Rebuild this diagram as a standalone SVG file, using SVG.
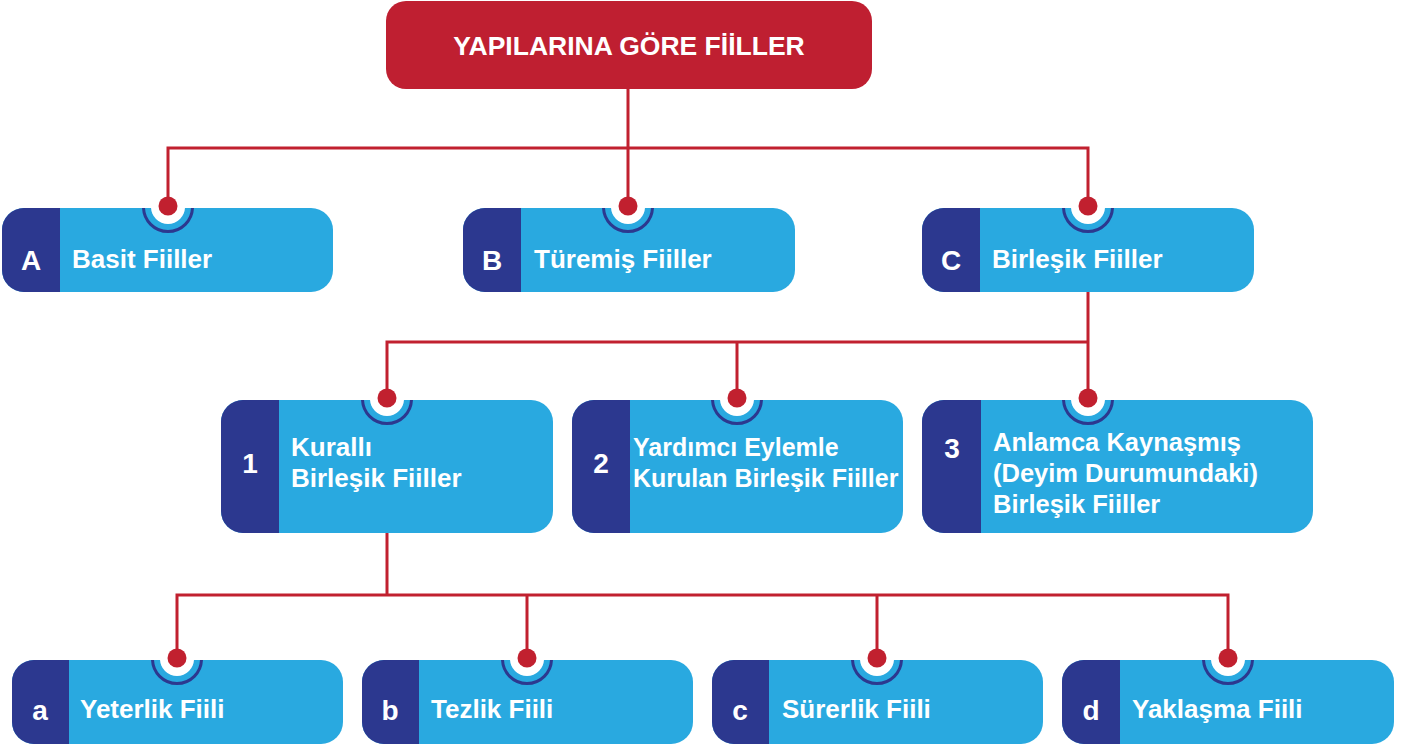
<svg xmlns="http://www.w3.org/2000/svg" width="1406" height="747" viewBox="0 0 1406 747">
<style>
.lb{fill:#29A9E0}
.db{fill:#2C388F}
.ring{fill:none;stroke:#2C388F;stroke-width:3}
.hole{fill:#FFFFFF}
.t{font-family:"Liberation Sans",Arial,sans-serif;font-weight:bold;fill:#FFFFFF}
.lab{font-size:26px}
.lab2{font-size:25px}
.lab3{font-size:25.5px}
.key{font-size:28px;text-anchor:middle}
.title{font-size:26.5px;text-anchor:middle}
.ln{fill:none;stroke:#C1202F;stroke-width:3}
.dot{fill:#C1202F}
</style>
<defs>
<clipPath id="cA"><rect x="2" y="208" width="331" height="84" rx="22"/></clipPath>
<clipPath id="cB"><rect x="463" y="208" width="332" height="84" rx="22"/></clipPath>
<clipPath id="cC"><rect x="922" y="208" width="332" height="84" rx="22"/></clipPath>
<clipPath id="c1"><rect x="221" y="400" width="332" height="133" rx="22"/></clipPath>
<clipPath id="c2"><rect x="572" y="400" width="331" height="133" rx="22"/></clipPath>
<clipPath id="c3"><rect x="922" y="400" width="391" height="133" rx="22"/></clipPath>
<clipPath id="ca"><rect x="12" y="660" width="331" height="84" rx="22"/></clipPath>
<clipPath id="cb"><rect x="362" y="660" width="331" height="84" rx="22"/></clipPath>
<clipPath id="cc"><rect x="712" y="660" width="331" height="84" rx="22"/></clipPath>
<clipPath id="cd"><rect x="1062" y="660" width="332" height="84" rx="22"/></clipPath>
</defs>

<g id="title">
<rect x="386" y="1" width="486" height="88" rx="20" fill="#BF1F31"/>
<text class="t title" x="629" y="55">YAPILARINA GÖRE FİİLLER</text>
</g>

<g id="nodeA" clip-path="url(#cA)">
<rect class="lb" x="2" y="208" width="331" height="84"/>
<rect class="db" x="2" y="208" width="58" height="84"/>
<circle class="ring" cx="168" cy="207" r="24.5"/>
<circle class="hole" cx="168" cy="207" r="17"/>
<text class="t key" x="31" y="270">A</text>
<text class="t lab" x="72" y="268">Basit Fiiller</text>
</g>

<g id="nodeB" clip-path="url(#cB)">
<rect class="lb" x="463" y="208" width="332" height="84"/>
<rect class="db" x="463" y="208" width="58" height="84"/>
<circle class="ring" cx="628" cy="207" r="24.5"/>
<circle class="hole" cx="628" cy="207" r="17"/>
<text class="t key" x="492" y="270">B</text>
<text class="t lab" x="534" y="268">Türemiş Fiiller</text>
</g>

<g id="nodeC" clip-path="url(#cC)">
<rect class="lb" x="922" y="208" width="332" height="84"/>
<rect class="db" x="922" y="208" width="58" height="84"/>
<circle class="ring" cx="1088" cy="207" r="24.5"/>
<circle class="hole" cx="1088" cy="207" r="17"/>
<text class="t key" x="951" y="270">C</text>
<text class="t lab" x="992" y="268">Birleşik Fiiller</text>
</g>

<g id="node1" clip-path="url(#c1)">
<rect class="lb" x="221" y="400" width="332" height="133"/>
<rect class="db" x="221" y="400" width="58" height="133"/>
<circle class="ring" cx="387" cy="399" r="24.5"/>
<circle class="hole" cx="387" cy="399" r="17"/>
<text class="t key" x="250" y="473">1</text>
<text class="t lab" x="291" y="456">Kurallı</text>
<text class="t lab" x="291" y="487">Birleşik Fiiller</text>
</g>

<g id="node2" clip-path="url(#c2)">
<rect class="lb" x="572" y="400" width="331" height="133"/>
<rect class="db" x="572" y="400" width="58" height="133"/>
<circle class="ring" cx="737" cy="399" r="24.5"/>
<circle class="hole" cx="737" cy="399" r="17"/>
<text class="t key" x="601" y="473">2</text>
<text class="t lab2" x="633" y="456">Yardımcı Eylemle</text>
<text class="t lab2" x="633" y="487">Kurulan Birleşik Fiiller</text>
</g>

<g id="node3" clip-path="url(#c3)">
<rect class="lb" x="922" y="400" width="391" height="133"/>
<rect class="db" x="922" y="400" width="59" height="133"/>
<circle class="ring" cx="1088" cy="399" r="24.5"/>
<circle class="hole" cx="1088" cy="399" r="17"/>
<text class="t key" x="952" y="458">3</text>
<text class="t lab3" x="993" y="451">Anlamca Kaynaşmış</text>
<text class="t lab3" x="993" y="482">(Deyim Durumundaki)</text>
<text class="t lab3" x="993" y="513">Birleşik Fiiller</text>
</g>

<g id="nodea" clip-path="url(#ca)">
<rect class="lb" x="12" y="660" width="331" height="84"/>
<rect class="db" x="12" y="660" width="57" height="84"/>
<circle class="ring" cx="177" cy="659" r="24.5"/>
<circle class="hole" cx="177" cy="659" r="17"/>
<text class="t key" x="40" y="720">a</text>
<text class="t lab" x="80" y="718">Yeterlik Fiili</text>
</g>

<g id="nodeb" clip-path="url(#cb)">
<rect class="lb" x="362" y="660" width="331" height="84"/>
<rect class="db" x="362" y="660" width="57" height="84"/>
<circle class="ring" cx="527" cy="659" r="24.5"/>
<circle class="hole" cx="527" cy="659" r="17"/>
<text class="t key" x="390" y="720">b</text>
<text class="t lab" x="431" y="718">Tezlik Fiili</text>
</g>

<g id="nodec" clip-path="url(#cc)">
<rect class="lb" x="712" y="660" width="331" height="84"/>
<rect class="db" x="712" y="660" width="57" height="84"/>
<circle class="ring" cx="877" cy="659" r="24.5"/>
<circle class="hole" cx="877" cy="659" r="17"/>
<text class="t key" x="740" y="720">c</text>
<text class="t lab" x="782" y="718">Sürerlik Fiili</text>
</g>

<g id="noded" clip-path="url(#cd)">
<rect class="lb" x="1062" y="660" width="332" height="84"/>
<rect class="db" x="1062" y="660" width="58" height="84"/>
<circle class="ring" cx="1228" cy="659" r="24.5"/>
<circle class="hole" cx="1228" cy="659" r="17"/>
<text class="t key" x="1091" y="720">d</text>
<text class="t lab" x="1132" y="718">Yaklaşma Fiili</text>
</g>

<g id="connectors">
<path class="ln" d="M628 89V148M168 206V148H1088V206M628 148V206"/>
<path class="ln" d="M1088 292V342M387 398V342H1088V398M737 342V398"/>
<path class="ln" d="M387 533V595M177 658V595H1228V658M527 595V658M877 595V658"/>
<circle class="dot" cx="168" cy="206" r="9.5"/>
<circle class="dot" cx="628" cy="206" r="9.5"/>
<circle class="dot" cx="1088" cy="206" r="9.5"/>
<circle class="dot" cx="387" cy="398" r="9.5"/>
<circle class="dot" cx="737" cy="398" r="9.5"/>
<circle class="dot" cx="1088" cy="398" r="9.5"/>
<circle class="dot" cx="177" cy="658" r="9.5"/>
<circle class="dot" cx="527" cy="658" r="9.5"/>
<circle class="dot" cx="877" cy="658" r="9.5"/>
<circle class="dot" cx="1228" cy="658" r="9.5"/>
</g>
</svg>
